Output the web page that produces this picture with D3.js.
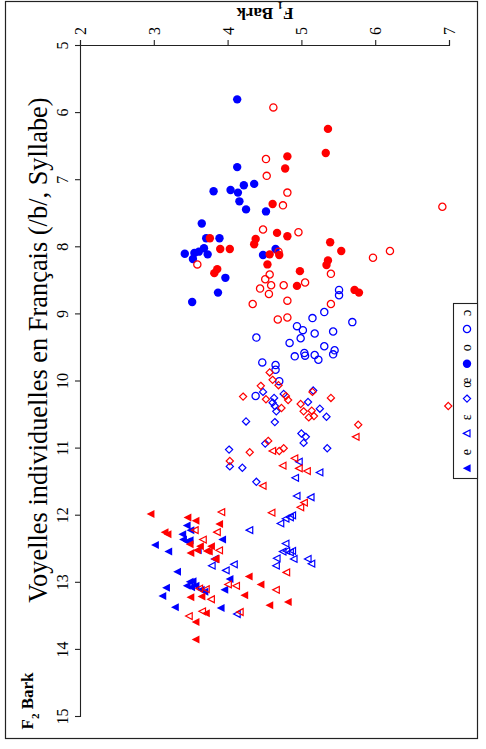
<!DOCTYPE html>
<html><head><meta charset="utf-8">
<script src="https://cdn.jsdelivr.net/npm/d3@7"></script>
<style>body{margin:0;background:#fff} svg{display:block}</style>
</head><body><svg id="c" width="486" height="749"></svg>
<script>
// ---- data: [F1 Bark, F2 Bark] ----
const F1_TICKS = [2, 3, 4, 5, 6, 7];
const F2_TICKS = [5, 6, 7, 8, 9, 10, 11, 12, 13, 14, 15];
const legendLabels = ["ɔ", "o", "œ", "ɛ", "e"];
const titleText = "Voyelles individuelles en Français (/b/, Syllabe)";

const oBlue = [[4.13,5.81],[4.13,6.82],[3.81,7.18],[4.04,7.16],[4.14,7.20],[4.22,7.09],[4.36,7.07],[4.16,7.33],[4.25,7.45],[4.52,7.48],[3.65,7.66],[3.71,7.88],[3.89,7.88],[3.42,8.11],[3.55,8.10],[3.61,8.08],[3.68,8.03],[3.73,8.12],[3.53,8.19],[3.97,8.47],[3.87,8.69],[3.52,8.83],[4.65,8.04],[4.48,8.13]];
const oRed = [[4.81,6.66],[4.78,6.84],[4.61,7.37],[5.36,6.25],[5.33,6.61],[3.76,7.88],[3.90,8.04],[4.03,8.04],[3.82,8.40],[3.86,8.34],[4.36,7.97],[4.38,7.89],[4.67,7.80],[4.81,7.85],[4.57,8.12],[4.70,8.13],[4.54,8.27],[4.98,8.37],[4.94,8.59],[5.39,7.94],[5.54,8.07],[5.36,8.21],[5.34,8.28],[5.72,8.65],[5.78,8.69]];
const openOBlue = [[5.51,8.65],[5.51,8.73],[5.31,8.98],[5.15,9.07],[5.69,9.13],[4.94,9.19],[5.02,9.25],[5.43,9.27],[5.18,9.30],[4.99,9.37],[4.84,9.44],[4.39,9.36],[5.31,9.49],[5.45,9.55],[5.43,9.61],[5.04,9.59],[5.05,9.63],[4.91,9.64],[5.18,9.62],[5.23,9.69],[4.47,9.73],[4.65,9.77],[4.65,9.84],[4.70,10.01],[4.38,10.23]];
const openORed = [[4.62,5.93],[4.52,6.70],[4.53,6.95],[4.81,7.20],[4.75,7.39],[6.91,7.41],[4.48,7.75],[4.96,7.79],[4.69,8.08],[3.59,8.27],[4.57,8.42],[4.51,8.49],[4.59,8.58],[4.76,8.58],[4.44,8.63],[4.56,8.71],[4.81,8.81],[4.34,8.86],[4.68,9.09],[4.81,9.06],[6.20,8.07],[5.97,8.17],[5.40,8.41],[5.05,8.54],[5.40,8.86]];
const oeBlue = [[4.48,10.17],[4.63,10.26],[4.61,10.33],[4.64,10.38],[4.66,10.46],[4.76,10.20],[5.16,10.15],[5.09,10.32],[5.25,10.42],[5.34,10.54],[4.25,10.61],[4.64,10.62],[5.00,10.79],[5.06,10.84],[5.03,10.93],[4.51,10.94],[4.02,11.03],[4.03,11.28],[4.20,11.30],[4.39,11.51],[5.35,11.01]];
const oeRed = [[4.57,9.88],[4.61,9.99],[4.69,10.07],[4.45,10.08],[4.21,10.24],[4.52,10.28],[4.79,10.23],[4.82,10.29],[4.73,10.41],[5.15,10.17],[5.40,10.26],[4.99,10.35],[5.03,10.46],[5.14,10.45],[5.10,10.55],[5.17,10.53],[4.55,10.90],[4.30,11.07],[4.03,11.20],[4.70,11.05],[4.76,11.01],[6.99,10.38],[5.77,10.66]];
const epsBlue = [[4.97,11.21],[5.25,11.37],[4.92,11.45],[4.94,11.72],[5.13,11.74],[4.79,12.06],[4.85,12.04],[4.88,12.01],[4.72,12.13],[4.30,12.23],[4.79,12.43],[4.75,12.55],[4.80,12.54],[4.85,12.56],[4.88,12.54],[4.67,12.65],[4.90,12.66],[5.09,12.66],[5.14,12.73],[4.66,12.76],[4.09,12.74],[3.79,12.76],[3.98,12.83],[3.83,12.66],[4.13,13.48]];
const epsRed = [[4.61,11.05],[4.91,11.16],[4.75,11.27],[4.97,11.31],[5.08,11.35],[4.48,11.57],[5.04,11.82],[4.99,11.89],[4.60,11.97],[3.92,11.96],[3.86,12.26],[3.67,12.37],[3.89,12.53],[3.84,12.66],[4.80,12.86],[4.66,13.12],[4.12,13.06],[4.01,13.04],[3.62,13.10],[3.71,13.11],[3.78,13.26],[4.17,13.45],[3.66,13.44],[3.48,13.51],[3.56,12.23],[5.74,10.84]];
const eBlue = [[3.45,12.16],[3.50,12.23],[3.39,12.29],[3.40,12.37],[3.45,12.40],[3.49,12.38],[3.60,12.53],[3.02,12.45],[3.20,12.55],[3.93,12.37],[3.32,12.85],[4.03,12.96],[3.49,13.00],[3.53,12.99],[3.45,13.06],[3.51,13.08],[3.57,13.06],[3.64,13.12],[3.69,13.15],[3.17,13.09],[3.12,13.21],[3.96,13.12],[3.29,13.38],[3.91,13.39]];
const eRed = [[2.96,11.99],[3.46,12.04],[3.57,12.09],[3.89,12.14],[3.15,12.26],[3.19,12.29],[3.49,12.44],[3.63,12.47],[3.78,12.47],[3.50,12.57],[3.59,12.53],[3.72,12.54],[3.75,12.55],[3.84,12.66],[4.29,12.92],[4.45,13.04],[4.23,13.20],[3.50,13.23],[3.65,13.22],[3.71,13.47],[3.57,13.60],[4.57,13.35],[4.82,13.30],[3.57,13.86]];

// ---- drawing ----
const BLUE = "#0000ff", RED = "#ff0000";
const svg = d3.select("#c");
const x = d3.scaleLinear().domain([2, 7]).range([80, 449]);
const y = d3.scaleLinear().domain([5, 15]).range([45, 716]);

svg.append("rect").attr("x", 5.5).attr("y", 1.5).attr("width", 472).attr("height", 737)
  .attr("fill", "none").attr("stroke", "#222").attr("stroke-width", 1.2);

const serif = "'Liberation Serif','Times New Roman',serif";

const ax1 = svg.append("g").attr("transform", "translate(0,45)")
  .call(d3.axisTop(x).tickValues(F1_TICKS).tickSize(5).tickFormat(d3.format("d")));
const ax2 = svg.append("g").attr("transform", "translate(80,0)")
  .call(d3.axisLeft(y).tickValues(F2_TICKS).tickSize(5).tickFormat(d3.format("d")));
[ax1, ax2].forEach(a => {
  a.selectAll("path,line").attr("stroke", "#222").attr("stroke-width", 1.1);
  a.selectAll("text").style("font-family", serif).style("font-size", "16px").attr("fill", "#000");
});
ax1.selectAll("text").attr("transform", "rotate(-90)").attr("x", 14).attr("y", 5.5).attr("dy", null)
  .style("text-anchor", "middle");
ax2.selectAll("text").attr("transform", "rotate(-90)").attr("x", 0).attr("y", -12).attr("dy", null)
  .style("text-anchor", "middle");

// axis titles
const t1 = svg.append("text").attr("transform", "translate(265,8) rotate(180)")
  .attr("text-anchor", "middle").style("font-family", serif).style("font-weight", "bold").style("font-size", "17px");
t1.append("tspan").text("F");
t1.append("tspan").attr("baseline-shift", "sub").style("font-size", "11px").text("1");
t1.append("tspan").text(" Bark");

const t2 = svg.append("text").attr("transform", "translate(33,701) rotate(-90)")
  .attr("text-anchor", "middle").style("font-family", serif).style("font-weight", "bold").style("font-size", "17px");
t2.append("tspan").text("F");
t2.append("tspan").attr("baseline-shift", "sub").style("font-size", "11px").text("2");
t2.append("tspan").text(" Bark");

svg.append("text").attr("transform", "translate(47,350) rotate(-90)")
  .attr("text-anchor", "middle").style("font-family", serif).style("font-size", "26.4px").text(titleText);

// marker shapes
const triPath = "M-4.2,0L3.6,-4L3.6,4Z";
const triOpenPath = "M-3.6,0L3,-3.4L3,3.4Z";
const diaPath = "M0,-3.6L3.6,0L0,3.6L-3.6,0Z";
function addMark(sel, kind, color) {
  if (kind === "dot") sel.append("circle").attr("r", 4.2).attr("fill", color);
  if (kind === "ring") sel.append("circle").attr("r", 3.6).attr("fill", "none").attr("stroke", color).attr("stroke-width", 1.3);
  if (kind === "dia") sel.append("path").attr("d", diaPath).attr("fill", "none").attr("stroke", color).attr("stroke-width", 1.2);
  if (kind === "tri") sel.append("path").attr("d", triPath).attr("fill", color);
  if (kind === "triOpen") sel.append("path").attr("d", triOpenPath).attr("fill", "none").attr("stroke", color).attr("stroke-width", 1.2);
}
function drawSeries(data, kind, color) {
  const g = svg.append("g");
  const sel = g.selectAll("g").data(data).join("g")
    .attr("transform", d => `translate(${x(d[0])},${y(d[1])})`);
  addMark(sel, kind, color);
}
drawSeries(openOBlue, "ring", BLUE);
drawSeries(oBlue, "dot", BLUE);
drawSeries(oeBlue, "dia", BLUE);
drawSeries(epsBlue, "triOpen", BLUE);
drawSeries(eBlue, "tri", BLUE);
drawSeries(openORed, "ring", RED);
drawSeries(oRed, "dot", RED);
drawSeries(oeRed, "dia", RED);
drawSeries(epsRed, "triOpen", RED);
drawSeries(eRed, "tri", RED);

// legend
const lg = svg.append("g");
lg.append("rect").attr("x", 453.5).attr("y", 303.5).attr("width", 24).attr("height", 175)
  .attr("fill", "#fff").attr("stroke", "#222").attr("stroke-width", 1.1);
const kinds = ["ring", "dot", "dia", "triOpen", "tri"];
legendLabels.forEach((lab, i) => {
  const ty = 313 + i * 34.8;
  lg.append("text").attr("transform", `translate(471,${ty}) rotate(-90)`).attr("text-anchor", "middle")
    .style("font-family", serif).style("font-size", "14px").text(lab);
  const s = lg.append("g").attr("transform", `translate(467,${ty + 16})`);
  addMark(s, kinds[i], BLUE);
});
</script></body></html>
